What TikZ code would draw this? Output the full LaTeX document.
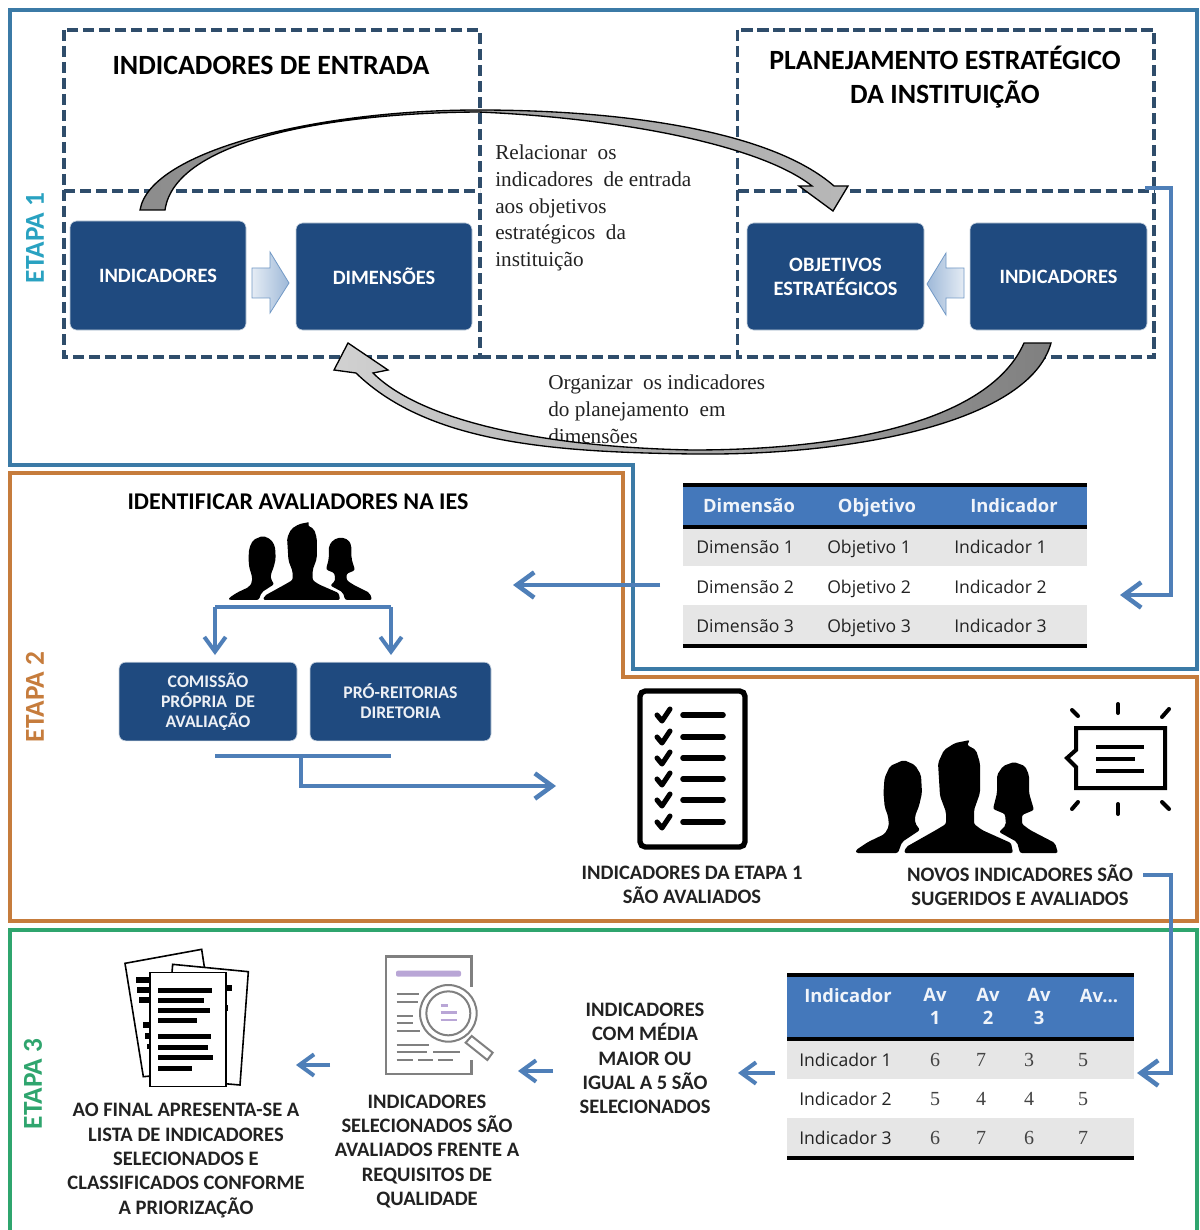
\documentclass[tikz,border=0pt]{standalone}
\usepackage{fontspec}
\setmainfont{Carlito}
\newfontfamily\timesfam{Liberation Serif}
\newfontfamily\tablefam{Open Sans}
\usetikzlibrary{arrows.meta}
\definecolor{frameblue}{HTML}{3B7AA6}
\definecolor{frameorange}{HTML}{C67C3C}
\definecolor{framegreen}{HTML}{2FA56E}
\definecolor{dashcol}{HTML}{2F4D6B}
\definecolor{boxblue}{HTML}{1F4A7F}
\definecolor{flowblue}{HTML}{4F7FB8}
\definecolor{headblue}{HTML}{4478BB}
\definecolor{rowgray}{HTML}{E6E6E6}
\definecolor{inktext}{HTML}{222222}
\definecolor{lilac}{HTML}{B9A6D6}
\definecolor{icongray}{HTML}{808080}
\tikzset{
  framepath/.style={line width=2.3pt, line join=miter},
  dashbox/.style={draw=dashcol, line width=2.7pt, dash pattern=on 8.5pt off 3.5pt},
  bluebox/.style={draw=boxblue!25, line width=.5pt, fill=boxblue, rounded corners=5pt, text=white, align=center, font=\bfseries\fontsize{15.3}{18}\selectfont, inner sep=0pt},
  smallbox/.style={bluebox, font=\bfseries\fontsize{13.3}{15}\selectfont, text=white!92!boxblue},
  flow/.style={draw=flowblue, line width=3.4pt, -{Straight Barb[length=13pt,width=19pt]}},
  flowline/.style={draw=flowblue, line width=3.4pt},
  smallflow/.style={draw=flowblue, line width=3pt, -{Straight Barb[length=11pt,width=16pt]}},
  titletext/.style={text=black, font=\bfseries\fontsize{20.9}{25}\selectfont, align=center, inner sep=0pt},
  captext/.style={text=inktext, font=\bfseries\fontsize{15.4}{18.3}\selectfont, align=center, inner sep=0pt},
  bodytext/.style={text=inktext, font=\timesfam\fontsize{15.9}{20}\selectfont, align=left, anchor=north west, inner sep=0pt},
  stagelabel/.style={rotate=90, font=\bfseries\fontsize{20.5}{24}\selectfont, inner sep=0pt},
  headcell/.style={text=white!92!headblue, font=\tablefam\bfseries\fontsize{13.8}{17}\selectfont, inner sep=0pt, align=center},
  levelled/.style={text height=13pt, text depth=3pt},
  cell/.style={text=inktext, font=\tablefam\fontsize{13.2}{15}\selectfont, inner sep=0pt, anchor=west, text height=13pt, text depth=3pt},
  numcell/.style={text=inktext!85, font=\timesfam\fontsize{15}{15}\selectfont, inner sep=0pt},
  curvearrow/.style={draw=black, line width=1pt, line join=miter},
  blockarrow/.style={draw=flowblue!80, line width=.6pt},
  people/.pic={
    \fill[black, rounded corners=1.6pt] (0,113) -- (0,110) -- (12,102) -- (28.7,94) -- (33,86) -- (32,76) -- (28.7,67) -- (27.5,53) -- (28.5,38) -- (34,26) -- (47.8,20) -- (59,25) -- (65,35) -- (66,53) -- (63,66) -- (59,76) -- (59,83) -- (64,90) -- (46,102) -- (42,113) -- cycle;
    \fill[black, rounded corners=1.6pt] (48,113) -- (50,107) -- (80,90) -- (90,84) -- (90,72) -- (84,56) -- (82,23) -- (88,10) -- (99,3) -- (114,0) -- (111,5) -- (120,10) -- (124,23) -- (124,53) -- (118,70) -- (118,84) -- (126,90) -- (155,103) -- (157,113) -- cycle;
    \fill[black, rounded corners=1.6pt] (164,113) -- (161,102) -- (143,92) -- (150,85) -- (149,74) -- (137,69) -- (141,53) -- (141,35) -- (147,26) -- (158,22) -- (169,26) -- (173,35) -- (173,53) -- (178,70) -- (166,75) -- (166,84) -- (174,90) -- (199,103) -- (202,113) -- cycle;
  }
}
\begin{document}
\begin{tikzpicture}[x=0.75pt,y=-0.75pt]
\useasboundingbox (0,0) rectangle (1199,1230);
\fill[white] (0,0) rectangle (1199,1230);

% stage frames
\draw[framepath, frameblue] (10,10) -- (1197,10) -- (1197,669) -- (633,669) -- (633,465) -- (10,465) -- cycle;
\draw[framepath, frameorange] (10,473) -- (623,473) -- (623,677) -- (1197,677) -- (1197,921) -- (10,921) -- cycle;
\draw[framepath, framegreen] (10,1232) -- (10,930) -- (1197,930) -- (1197,1232);

\node[stagelabel, text=frameblue!70!cyan] (etapaA) at (35,238) {ETAPA 1};
\node[stagelabel, text=frameorange] (etapaB) at (35,697) {ETAPA 2};
\node[stagelabel, text=framegreen] (etapaC) at (33,1084) {ETAPA 3};

% dashed groups
\draw[dashbox] (64,30) rectangle (480,357);
\draw[dashbox] (64,191) -- (480,191);
\draw[dashbox] (737.5,30) rectangle (1154,357);
\draw[dashbox] (737.5,191) -- (1154,191);
\draw[dashbox] (480,357) -- (737.5,357);

\node[titletext] (tEntrada) at (271,65) {INDICADORES DE ENTRADA};
\node[titletext] (tPlano) at (945,77) {PLANEJAMENTO ESTRATÉGICO\\DA INSTITUIÇÃO};

% blue boxes stage 1
\node[bluebox, minimum width=132pt, minimum height=81.75pt] (bInd) at (158,275.5) {INDICADORES};
\node[bluebox, minimum width=132pt, minimum height=80.25pt] (bDim) at (384,276.5) {DIMENSÕES};
\node[bluebox, minimum width=132.75pt, minimum height=80.25pt] (bObj) at (835.5,276.5) {OBJETIVOS\\ESTRATÉGICOS};
\node[bluebox, minimum width=132.75pt, minimum height=80.25pt] (bIndB) at (1058.5,276.5) {INDICADORES};

% block arrows
\path[blockarrow, left color=flowblue!15, right color=flowblue!55] (252,268) -- (270,268) -- (270,252) -- (289,283) -- (270,313) -- (270,298) -- (252,298) -- cycle;
\path[blockarrow, right color=flowblue!15, left color=flowblue!55] (964,268) -- (946,268) -- (946,253) -- (927,284) -- (946,315) -- (946,298) -- (964,298) -- cycle;

% body text
\node[bodytext] (txtA) at (495,145) {Relacionar\ \ os\\indicadores\ \ de entrada\\aos objetivos\\estratégicos\ \ da\\instituição};
\node[bodytext] (txtB) at (548,375) {Organizar\ \ os indicadores\\do planejamento\ \ em\\dimensões};

% curved grey arrows
\path[curvearrow, left color=black!45, right color=black!28]
  (140,210) .. controls (150,150) and (320,110) .. (478,110)
  .. controls (620,110) and (770,130) .. (834,186) -- (848,186) -- (833,211) -- (799,186) -- (812,186)
  .. controls (760,145) and (620,118) .. (478,112)
  .. controls (330,113) and (175,140) .. (165,210) -- cycle;
\path[curvearrow, right color=black!50, left color=black!18]
  (1051,343) .. controls (1030,420) and (860,456) .. (692,454)
  .. controls (560,452) and (430,445) .. (356,373) -- (334,370) -- (348,343) -- (388,370) -- (373,373)
  .. controls (420,420) and (540,447) .. (692,450)
  .. controls (850,450) and (990,420) .. (1024,343) -- cycle;

% table 1
\fill[headblue] (683,485) rectangle (1087,527);
\fill[rowgray] (683,527) rectangle (1087,566);
\fill[rowgray] (683,605) rectangle (1087,645);
\draw[black, line width=2.6pt] (683,485) -- (1087,485);
\draw[black, line width=2.6pt] (683,527) -- (1087,527);
\draw[black, line width=2.6pt] (683,646) -- (1087,646);
\node[headcell, levelled] (hA) at (749,506) {Dimensão};
\node[headcell, levelled] (hB) at (877,506) {Objetivo};
\node[headcell, levelled] (hC) at (1014,506) {Indicador};
\node[cell] (a1) at (696,547) {Dimensão 1};
\node[cell] (a2) at (696,587) {Dimensão 2};
\node[cell] (a3) at (696,626) {Dimensão 3};
\node[cell] (b1) at (827,547) {Objetivo 1};
\node[cell] (b2) at (827,587) {Objetivo 2};
\node[cell] (b3) at (827,626) {Objetivo 3};
\node[cell] (c1) at (954,547) {Indicador 1};
\node[cell] (c2) at (954,587) {Indicador 2};
\node[cell] (c3) at (954,626) {Indicador 3};

% connector stage 1 to table
\coordinate (fromPlan) at (1145,188);
\coordinate (planTurnA) at (1171,188);
\coordinate (planTurnB) at (1171,595);
\coordinate (planEnd) at (1120,595);
\draw[flow] (fromPlan) -- (planTurnA) -- (planTurnB) -- (planEnd);
\coordinate (tableOut) at (660,585);
\coordinate (tableEnd) at (513,585);
\draw[flow] (tableOut) -- (tableEnd);

% stage 2 left
\node[text=black, font=\bfseries\fontsize{18}{20}\selectfont, inner sep=0pt] (tAval) at (298,502) {IDENTIFICAR AVALIADORES NA IES};
\pic[xscale=.708, yscale=.69] at (229,522) {people};
\node[smallbox, minimum width=133.5pt, minimum height=59pt] (bCpa) at (208,701.5) {COMISSÃO\\PRÓPRIA\ \ DE\\AVALIAÇÃO};
\node[smallbox, minimum width=135.75pt, minimum height=59pt] (bPro) at (400.5,701.5) {PRÓ-REITORIAS\\DIRETORIA};
\coordinate (splitL) at (215,607);
\coordinate (splitR) at (391,607);
\coordinate (tipL) at (215,655);
\coordinate (tipR) at (391,655);
\draw[flowline, line cap=butt] (splitL) -- (splitR);
\draw[smallflow] (splitL) -- (tipL);
\draw[smallflow] (splitR) -- (tipR);
\coordinate (joinL) at (215,756);
\coordinate (joinR) at (391,756);
\coordinate (joinMid) at (301,756);
\coordinate (joinTurn) at (301,786);
\coordinate (joinEnd) at (556,786);
\draw[flowline] (joinL) -- (joinR);
\draw[flow] (joinMid) -- (joinTurn) -- (joinEnd);

% checklist icon
\draw[black, line width=4pt, rounded corners=4pt] (640,691) rectangle (745,847);
\foreach \yy in {715,737,758,779,800,822}{
  \draw[black, line width=3.8pt, line cap=round, line join=round] (657,\yy) -- (662,\yy+6) -- (670,\yy-6);
  \draw[black, line width=4.2pt, line cap=round] (683,\yy) -- (723,\yy);
}
\node[captext] (capCheck) at (692,885) {INDICADORES DA ETAPA 1\\SÃO AVALIADOS};

% people + speech icon
\pic at (856,740) {people};
\draw[black, line width=3pt, line join=miter] (1076,728) -- (1165,728) -- (1165,788) -- (1076,788) -- (1076,767) -- (1067,758) -- (1076,750) -- cycle;
\draw[black, line width=3pt] (1096,747) -- (1144,747);
\draw[black, line width=3pt] (1096,759) -- (1135,759);
\draw[black, line width=3pt] (1096,771) -- (1144,771);
\draw[black, line width=3pt, line cap=round] (1118,704) -- (1118,713);
\draw[black, line width=3pt, line cap=round] (1118,804) -- (1118,814);
\draw[black, line width=3pt, line cap=round] (1072,710) -- (1078,716);
\draw[black, line width=3pt, line cap=round] (1169,709) -- (1162,717);
\draw[black, line width=3pt, line cap=round] (1078,802) -- (1072,809);
\draw[black, line width=3pt, line cap=round] (1162,802) -- (1169,809);
\node[captext] (capNew) at (1020,885) {NOVOS INDICADORES SÃO\\SUGERIDOS E AVALIADOS};

% connector to table 2
\coordinate (newOut) at (1143,875);
\coordinate (newTurnA) at (1171,875);
\coordinate (newTurnB) at (1171,1073);
\coordinate (newEnd) at (1137,1073);
\draw[flow] (newOut) -- (newTurnA) -- (newTurnB) -- (newEnd);

% table 2
\fill[headblue] (787,975) rectangle (1134,1039);
\fill[rowgray] (787,1039) rectangle (1134,1079);
\fill[rowgray] (787,1118) rectangle (1134,1156);
\draw[black, line width=2.6pt] (787,975) -- (1134,975);
\draw[black, line width=2.6pt] (787,1039) -- (1134,1039);
\draw[black, line width=2.6pt] (787,1158) -- (1134,1158);
\node[headcell, levelled] (hD) at (848,996) {Indicador};
\node[headcell] (hE) at (935,1006.5) {Av\\1};
\node[headcell] (hF) at (988,1006.5) {Av\\2};
\node[headcell] (hG) at (1039,1006.5) {Av\\3};
\node[headcell, levelled] (hH) at (1099,996) {Av...};
\node[cell] (d1) at (799,1060) {Indicador 1};
\node[cell] (d2) at (799,1099) {Indicador 2};
\node[cell] (d3) at (799,1138) {Indicador 3};
\node[numcell] (n11) at (935,1060) {6};
\node[numcell] (n12) at (981,1060) {7};
\node[numcell] (n13) at (1029,1060) {3};
\node[numcell] (n14) at (1083,1060) {5};
\node[numcell] (n21) at (935,1099) {5};
\node[numcell] (n22) at (981,1099) {4};
\node[numcell] (n23) at (1029,1099) {4};
\node[numcell] (n24) at (1083,1099) {5};
\node[numcell] (n31) at (935,1138) {6};
\node[numcell] (n32) at (981,1138) {7};
\node[numcell] (n33) at (1029,1138) {6};
\node[numcell] (n34) at (1083,1138) {7};

% stage 3 texts and arrows
\node[captext] (capMedia) at (645,1058.5) {INDICADORES\\COM MÉDIA\\MAIOR OU\\IGUAL A 5 SÃO\\SELECIONADOS};
\node[captext] (capReq) at (427,1151.5) {INDICADORES\\SELECIONADOS SÃO\\AVALIADOS FRENTE A\\REQUISITOS DE\\QUALIDADE};
\node[captext] (capFinal) at (186,1160.5) {AO FINAL APRESENTA-SE A\\LISTA DE INDICADORES\\SELECIONADOS E\\CLASSIFICADOS CONFORME\\A PRIORIZAÇÃO};
\coordinate (s3a) at (775,1073);
\coordinate (s3b) at (738,1073);
\coordinate (s3c) at (553,1071);
\coordinate (s3d) at (518,1071);
\coordinate (s3e) at (330,1065);
\coordinate (s3f) at (296,1065);
\draw[smallflow] (s3a) -- (s3b);
\draw[smallflow] (s3c) -- (s3d);
\draw[smallflow] (s3e) -- (s3f);

% magnifier document
\begin{scope}[shift={(60,930)},scale=1/3]
  \draw[icongray, line width=1.9pt, fill=white] (1235,170) -- (1235,80) -- (978,80) -- (978,432) -- (1235,432) -- (1235,390);
  \fill[lilac, rounded corners=1.5pt] (1008,122) rectangle (1203,140);
  \foreach \ya/\xb in {192/1078,215/1075,258/1058,280/1058,302/1080,344/1108}{
    \draw[icongray, line width=1.5pt] (1010,\ya) -- (\xb,\ya);
  }
  \draw[icongray, line width=1.5pt] (1010,367) -- (1100,367);
  \draw[icongray, line width=1.5pt] (1120,367) -- (1200,367);
  \draw[icongray, line width=1.5pt] (1010,390) -- (1060,390);
  \draw[icongray, line width=1.5pt] (1075,390) -- (1120,390);
  \draw[icongray, line width=1.5pt] (1135,390) -- (1178,390);
  \draw[icongray, line width=1.5pt, fill=white] (1165,250) circle (85);
  \draw[icongray, line width=1.5pt, fill=white] (1165,250) circle (66);
  \draw[lilac, line width=1.8pt] (1142,226) -- (1165,226);
  \draw[lilac, line width=1.8pt] (1142,248) -- (1190,248);
  \draw[lilac, line width=1.8pt] (1142,270) -- (1190,270);
  \draw[icongray, line width=1.5pt, fill=white] (1217,338) -- (1235,318) -- (1298,368) -- (1282,390) -- cycle;
\end{scope}

% document stack
\begin{scope}[shift={(60,930)},scale=1/3]
  \draw[black, line width=1.2pt, fill=white] (195,100) -- (425,58) -- (480,420) -- (250,440) -- cycle;
  \foreach \xa/\ya in {228/150,232/180,238/210,250/285,255/318,260/350,266/380}{
    \fill[black] (\xa,\ya-8) rectangle (\xa+50,\ya+8);
  }
  \draw[black, line width=1.2pt, fill=white] (338,103) -- (565,125) -- (540,465) -- (310,445) -- cycle;
  \fill[black] (490,166) rectangle (515,184);
  \fill[black] (490,226) rectangle (505,244);
  \draw[black, line width=1.2pt, fill=white] (270,128) rectangle (498,470);
  \foreach \ya/\xb in {182/455,212/432,242/450,272/410,320/452,352/443,382/458,415/395}{
    \fill[black] (293,\ya-8) rectangle (\xb,\ya+8);
  }
\end{scope}
\end{tikzpicture}
\end{document}
